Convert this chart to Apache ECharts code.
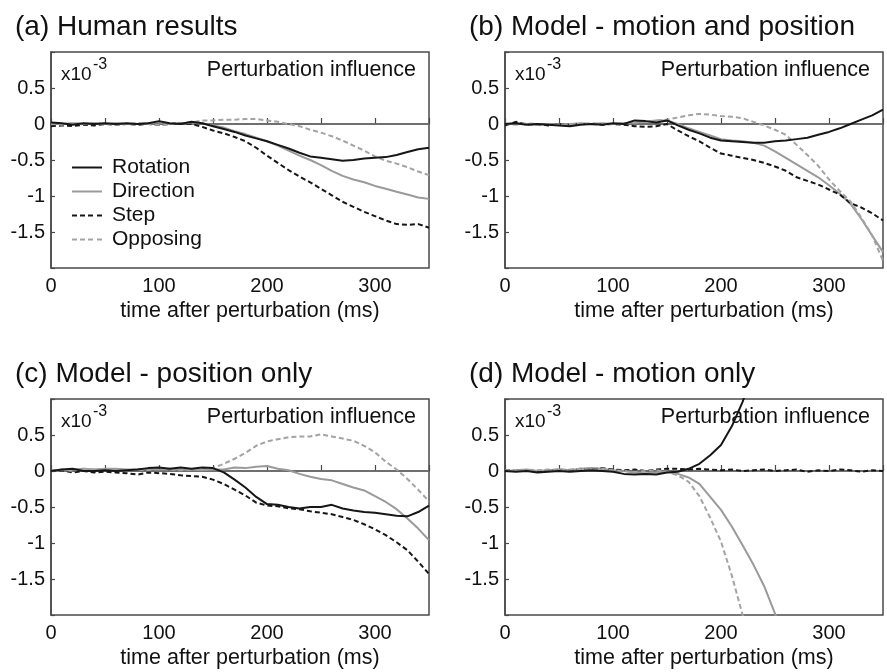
<!DOCTYPE html>
<html><head><meta charset="utf-8">
<script src="https://cdn.jsdelivr.net/npm/echarts@6/dist/echarts.min.js"></script>
<style>html,body{margin:0;padding:0;background:#fff}#c{width:887px;height:672px}</style>
</head><body><div id="c"></div>
<script>
// time after perturbation (ms)
const times = [0,10,20,30,40,50,60,70,80,90,100,110,120,130,140,150,160,170,180,190,200,210,220,230,240,250,260,270,280,290,300,310,320,330,340,350];
const seriesNames = ['Rotation','Direction','Step','Opposing'];
const panelTitles = ['(a) Human results','(b) Model - motion and position','(c) Model - position only','(d) Model - motion only'];
const xTicks = [0,100,200,300];
const yTicks = [-1.5,-1,-0.5,0,0.5];

// (a) Human results  (x10^-3)
const aRotation  = [0.02,0.01,-0.01,0.01,0.0,0.01,0.0,0.01,0.0,0.01,0.04,0.01,0.0,0.03,0.01,-0.03,-0.07,-0.11,-0.16,-0.20,-0.24,-0.29,-0.34,-0.40,-0.45,-0.47,-0.49,-0.51,-0.50,-0.48,-0.47,-0.46,-0.43,-0.39,-0.35,-0.33];
const aDirection = [0.01,0.0,0.01,0.0,0.01,0.0,0.01,0.0,0.0,0.01,0.02,0.0,0.01,0.02,0.01,-0.02,-0.05,-0.10,-0.14,-0.19,-0.24,-0.30,-0.37,-0.44,-0.50,-0.57,-0.65,-0.72,-0.77,-0.81,-0.86,-0.90,-0.94,-0.98,-1.02,-1.04];
const aStep      = [-0.03,-0.02,-0.03,-0.01,-0.02,0.0,-0.01,0.0,-0.01,0.0,-0.01,0.0,0.01,0.0,-0.04,-0.09,-0.13,-0.18,-0.24,-0.33,-0.44,-0.54,-0.64,-0.73,-0.81,-0.90,-0.99,-1.08,-1.15,-1.22,-1.28,-1.34,-1.39,-1.40,-1.39,-1.44];
const aOpposing  = [0.0,-0.01,0.01,0.0,0.01,0.0,-0.01,0.0,0.01,0.0,-0.01,0.0,0.01,0.02,0.05,0.05,0.06,0.06,0.07,0.07,0.05,0.03,0.0,-0.03,-0.08,-0.12,-0.17,-0.23,-0.30,-0.37,-0.45,-0.51,-0.55,-0.60,-0.66,-0.71];

// (b) Model - motion and position
const bRotation  = [0.0,0.01,-0.01,0.0,-0.01,-0.02,-0.03,-0.01,0.0,-0.01,0.01,0.0,0.05,0.04,0.02,0.05,-0.02,-0.08,-0.13,-0.19,-0.23,-0.24,-0.25,-0.26,-0.26,-0.24,-0.23,-0.21,-0.19,-0.15,-0.11,-0.06,0.0,0.06,0.12,0.20];
const bDirection = [0.0,0.01,0.0,-0.01,0.0,-0.01,0.0,0.01,0.0,0.01,0.0,0.01,0.02,0.03,0.05,0.05,0.0,-0.06,-0.11,-0.16,-0.21,-0.23,-0.24,-0.26,-0.30,-0.38,-0.47,-0.56,-0.65,-0.74,-0.85,-0.97,-1.11,-1.32,-1.55,-1.78];
const bStep      = [-0.02,0.03,-0.01,0.0,-0.02,0.0,-0.01,0.0,0.0,-0.01,0.0,-0.01,-0.03,-0.04,-0.03,0.0,-0.09,-0.17,-0.24,-0.33,-0.41,-0.44,-0.47,-0.50,-0.54,-0.59,-0.65,-0.74,-0.79,-0.84,-0.91,-0.98,-1.10,-1.16,-1.24,-1.34];
const bOpposing  = [0.0,-0.01,0.01,0.0,0.0,-0.01,0.0,0.0,0.01,0.0,0.0,0.01,0.02,0.03,0.05,0.06,0.09,0.12,0.14,0.13,0.11,0.10,0.08,0.03,-0.02,-0.08,-0.15,-0.29,-0.43,-0.58,-0.77,-0.93,-1.08,-1.30,-1.55,-1.90];

// (c) Model - position only
const cRotation  = [0.0,0.02,0.03,0.0,0.0,0.01,0.0,0.01,0.02,0.04,0.05,0.03,0.05,0.03,0.05,0.04,-0.02,-0.12,-0.23,-0.36,-0.46,-0.47,-0.50,-0.52,-0.50,-0.50,-0.47,-0.52,-0.55,-0.57,-0.58,-0.60,-0.62,-0.63,-0.57,-0.48];
const cDirection = [0.0,0.01,0.02,0.03,0.02,0.03,0.03,0.02,0.02,0.03,0.02,0.03,0.02,0.02,0.01,0.02,0.02,0.05,0.04,0.06,0.07,0.03,0.01,-0.04,-0.08,-0.11,-0.13,-0.18,-0.23,-0.27,-0.35,-0.43,-0.53,-0.66,-0.80,-0.96];
const cStep      = [0.0,0.01,-0.02,0.0,-0.02,-0.01,-0.02,-0.03,-0.05,-0.02,-0.03,-0.04,-0.06,-0.07,-0.08,-0.12,-0.18,-0.26,-0.34,-0.44,-0.48,-0.49,-0.52,-0.53,-0.56,-0.58,-0.60,-0.64,-0.68,-0.74,-0.81,-0.89,-0.99,-1.10,-1.26,-1.43];
const cOpposing  = [0.0,0.02,0.0,0.03,0.02,0.03,0.02,0.01,0.02,0.01,0.03,0.02,0.01,0.02,0.03,0.04,0.10,0.17,0.25,0.35,0.41,0.44,0.47,0.48,0.48,0.51,0.48,0.45,0.42,0.35,0.26,0.13,0.02,-0.11,-0.26,-0.42];

// (d) Model - motion only (curves leave the plotted range)
const dRotation  = [0.0,-0.01,0.0,-0.02,-0.01,0.0,-0.01,0.0,0.01,0.0,-0.01,-0.04,-0.05,-0.04,-0.05,-0.02,-0.01,0.03,0.10,0.22,0.36,0.62,0.96,1.40,null,null,null,null,null,null,null,null,null,null,null,null];
const dDirection = [0.0,0.01,0.02,0.0,0.01,0.02,0.01,0.03,0.04,0.03,0.01,0.0,-0.02,-0.03,-0.02,-0.01,-0.04,-0.09,-0.18,-0.36,-0.54,-0.77,-1.03,-1.30,-1.60,-1.98,-2.40,null,null,null,null,null,null,null,null,null];
const dStep      = [0.01,0.0,0.01,-0.01,0.01,0.02,0.01,0.03,0.02,0.04,0.02,0.01,0.02,0.0,0.02,0.03,0.03,0.02,0.03,0.02,0.01,0.02,0.0,0.01,0.02,0.0,0.01,0.02,-0.01,0.01,0.0,0.02,0.01,-0.01,0.01,0.0];
const dOpposing  = [0.01,0.0,0.02,0.01,0.02,0.01,0.02,0.03,0.02,0.03,0.01,0.0,-0.01,0.0,0.01,-0.01,-0.06,-0.15,-0.35,-0.65,-0.98,-1.45,-2.00,-2.50,null,null,null,null,null,null,null,null,null,null,null,null];

const panels = [
  [aRotation,aDirection,aStep,aOpposing],
  [bRotation,bDirection,bStep,bOpposing],
  [cRotation,cDirection,cStep,cOpposing],
  [dRotation,dDirection,dStep,dOpposing]
];

const FONT = '"Liberation Sans", Arial, Helvetica, sans-serif';
const W = 887;
const grids = [
  {left:51, top:52}, {left:505, top:52}, {left:51, top:399}, {left:505, top:399}
];
const GW = 378, GH = 216;
const styles = [
  {color:'#161616', type:'solid'},
  {color:'#9a9a9a', type:'solid'},
  {color:'#161616', type:[5,3]},
  {color:'#a3a3a3', type:[5,3]}
];
const SOLID_ICON = 'path://M0,0h30v2h-30z';
const DASH_ICON = 'path://M0,0h5v2h-5zM8,0h5v2h-5zM16,0h5v2h-5zM25,0h5v2h-5z';

const option = {
  animation:false,
  backgroundColor:'#fff',
  textStyle:{fontFamily:FONT},
  title: panelTitles.map((t,i)=>({
    text:t, left: grids[i].left - 41, top: grids[i].top - 44,
    textStyle:{fontSize:28, fontWeight:'normal', color:'#111', fontFamily:FONT}
  })),
  legend:{
    data:seriesNames.map((n,k)=>({name:n, icon: styles[k].type==='solid' ? SOLID_ICON : DASH_ICON})),
    orient:'vertical', left:72, top:157, itemWidth:30, itemHeight:2, itemGap:3,
    padding:0, textStyle:{fontSize:21, color:'#111', fontFamily:FONT, padding:[0,0,0,5]}, selectedMode:false
  },
  grid: grids.map(g=>({left:g.left, top:g.top, width:GW, height:GH, show:true, borderColor:'#4a4a4a', borderWidth:1.5, containLabel:false})),
  xAxis: grids.map((g,i)=>({
    type:'value', gridIndex:i, min:0, max:350, interval:50,
    axisLine:{show:true, lineStyle:{color:'#4a4a4a', width:1.5}},
    axisTick:{show:true, inside:true, length:6, lineStyle:{color:'#4a4a4a', width:1.2}},
    splitLine:{show:false},
    axisLabel:{fontSize:20, color:'#111', margin:8, fontFamily:FONT,
      formatter:v=> xTicks.indexOf(v)>=0 ? String(v) : ''},
    name:'time after perturbation (ms)', nameLocation:'middle', nameGap:32,
    nameTextStyle:{fontSize:21.5, color:'#111', fontFamily:FONT, padding:[0,0,0,20]}
  })),
  yAxis: grids.map((g,i)=>({
    type:'value', gridIndex:i, min:-2, max:1, interval:0.5,
    axisLine:{show:true, lineStyle:{color:'#4a4a4a', width:1.5}},
    axisTick:{show:true, inside:true, length:4, lineStyle:{color:'#4a4a4a', width:1.2}},
    splitLine:{show:false},
    axisLabel:{fontSize:20, color:'#111', margin:6, fontFamily:FONT,
      formatter:v=> yTicks.indexOf(v)>=0 ? String(v) : ''}
  })),
  graphic: [],
  series: []
};

grids.forEach((g,i)=>{
  option.graphic.push({type:'text', right: W - (g.left+GW-13), top:g.top+7,
    style:{text:'Perturbation influence', fontSize:21.5, fontFamily:FONT, fill:'#111'}});
  option.graphic.push({type:'text', left:g.left+10, top:g.top+13,
    style:{text:'x10', fontSize:19, fontFamily:FONT, fill:'#111'}});
  option.graphic.push({type:'text', left:g.left+42, top:g.top+5,
    style:{text:'-3', fontSize:16, fontFamily:FONT, fill:'#111'}});
  panels[i].forEach((vals,k)=>{
    const s = {
      type:'line', name:seriesNames[k], xAxisIndex:i, yAxisIndex:i,
      data: times.map((t,j)=>[t, vals[j]]),
      showSymbol:false, symbol:'none', clip:true, connectNulls:false,
      lineStyle:{color:styles[k].color, width:2, type:styles[k].type},
      itemStyle:{color:styles[k].color}, z: k===0?5:3
    };
    if(k===0){
      s.markLine = {silent:true, symbol:'none', label:{show:false},
        lineStyle:{color:'#6e6e6e', width:1.5, type:'solid'}, data:[{yAxis:0}], z:1};
    }
    option.series.push(s);
  });
});

const chart = echarts.init(document.getElementById('c'), null, {renderer:'canvas'});
chart.setOption(option);
</script>
</body></html>
